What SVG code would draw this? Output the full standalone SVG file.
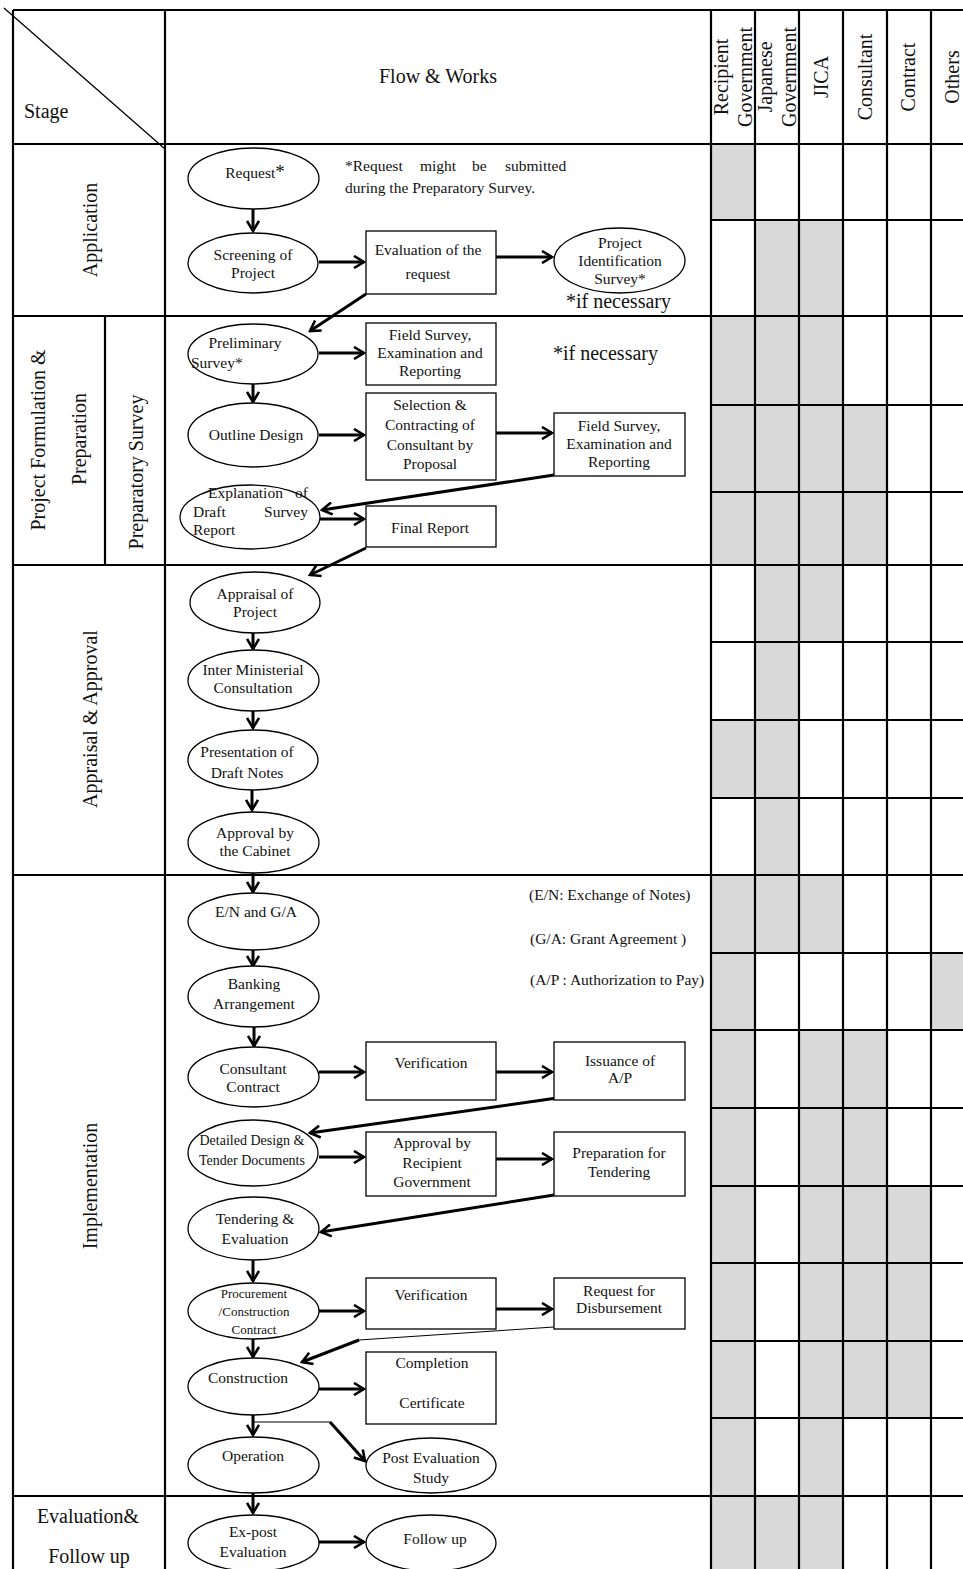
<svg xmlns="http://www.w3.org/2000/svg" width="963" height="1569" viewBox="0 0 963 1569">
<style>
text{font-family:"Liberation Serif","Times New Roman",serif;fill:#111;}
.t{font-size:15.5px;text-anchor:middle;}
.ts{font-size:14px;text-anchor:middle;}
.tx{font-size:13px;text-anchor:middle;}
.l{font-size:15.5px;}
.h{font-size:20px;}
.hm{font-size:20px;text-anchor:middle;}
.grid{stroke:#000;stroke-width:2.2;fill:none;}
.sh{fill:#d9d9d9;}
.n{fill:#fff;stroke:#000;stroke-width:1.3;}
.c{stroke:#000;stroke-width:3;fill:none;}
.thin{stroke:#000;stroke-width:1;fill:none;}
</style>
<defs>
<marker id="ah" markerUnits="userSpaceOnUse" viewBox="0 0 13 14" refX="11" refY="7" markerWidth="13" markerHeight="14" orient="auto">
<path d="M1,1 L11,7 L1,13" fill="none" stroke="#000" stroke-width="2.6"/>
</marker>
</defs>
<rect x="0" y="0" width="963" height="1569" fill="#fff"/>
<g id="shading">
<rect class="sh" x="711" y="144" width="44" height="76"/>
<rect class="sh" x="755" y="220" width="88" height="96"/>
<rect class="sh" x="711" y="316" width="132" height="89"/>
<rect class="sh" x="711" y="405" width="176" height="160"/>
<rect class="sh" x="755" y="565" width="88" height="77"/>
<rect class="sh" x="755" y="642" width="44" height="78"/>
<rect class="sh" x="711" y="720" width="88" height="78"/>
<rect class="sh" x="755" y="798" width="44" height="77"/>
<rect class="sh" x="711" y="875" width="132" height="78"/>
<rect class="sh" x="711" y="953" width="44" height="77"/>
<rect class="sh" x="931" y="953" width="32" height="77"/>
<rect class="sh" x="711" y="1030" width="44" height="466"/>
<rect class="sh" x="799" y="1030" width="88" height="156"/>
<rect class="sh" x="799" y="1186" width="132" height="232"/>
<rect class="sh" x="799" y="1418" width="44" height="78"/>
<rect class="sh" x="711" y="1496" width="132" height="73"/>
</g>
<g id="table" class="grid">
<line x1="13" y1="10" x2="963" y2="10"/>
<line x1="13" y1="10" x2="13" y2="1569"/>
<line x1="165" y1="10" x2="165" y2="1569"/>
<line x1="711" y1="10" x2="711" y2="1569"/>
<line x1="755" y1="10" x2="755" y2="1569"/>
<line x1="799" y1="10" x2="799" y2="1569"/>
<line x1="843" y1="10" x2="843" y2="1569"/>
<line x1="887" y1="10" x2="887" y2="1569"/>
<line x1="931" y1="10" x2="931" y2="1569"/>
<line x1="105" y1="316" x2="105" y2="565"/>
<line x1="13" y1="144" x2="963" y2="144"/>
<line x1="13" y1="316" x2="963" y2="316"/>
<line x1="13" y1="565" x2="963" y2="565"/>
<line x1="13" y1="875" x2="963" y2="875"/>
<line x1="13" y1="1496" x2="963" y2="1496"/>
<line x1="711" y1="220" x2="963" y2="220"/>
<line x1="711" y1="405" x2="963" y2="405"/>
<line x1="711" y1="492" x2="963" y2="492"/>
<line x1="711" y1="642" x2="963" y2="642"/>
<line x1="711" y1="720" x2="963" y2="720"/>
<line x1="711" y1="798" x2="963" y2="798"/>
<line x1="711" y1="953" x2="963" y2="953"/>
<line x1="711" y1="1030" x2="963" y2="1030"/>
<line x1="711" y1="1108" x2="963" y2="1108"/>
<line x1="711" y1="1186" x2="963" y2="1186"/>
<line x1="711" y1="1263" x2="963" y2="1263"/>
<line x1="711" y1="1341" x2="963" y2="1341"/>
<line x1="711" y1="1418" x2="963" y2="1418"/>
<line x1="4" y1="8" x2="165" y2="149" stroke-width="1.3"/>
</g>
<g id="headers">
<text class="h" x="24" y="118">Stage</text>
<text class="hm" x="438" y="83">Flow &amp; Works</text>
<text class="hm" transform="translate(728,77) rotate(-90)">Recipient</text>
<text class="hm" transform="translate(752,77) rotate(-90)">Government</text>
<text class="hm" transform="translate(772,77) rotate(-90)">Japanese</text>
<text class="hm" transform="translate(796,77) rotate(-90)">Government</text>
<text class="hm" transform="translate(828,77) rotate(-90)">JICA</text>
<text class="hm" transform="translate(872,77) rotate(-90)">Consultant</text>
<text class="hm" transform="translate(915,77) rotate(-90)">Contract</text>
<text class="hm" transform="translate(959,77) rotate(-90)">Others</text>
<text class="hm" transform="translate(97,230) rotate(-90)">Application</text>
<text class="hm" transform="translate(45,440) rotate(-90)">Project Formulation &amp;</text>
<text class="hm" transform="translate(86,439) rotate(-90)">Preparation</text>
<text class="hm" transform="translate(143,472) rotate(-90)">Preparatory Survey</text>
<text class="hm" transform="translate(97,719) rotate(-90)">Appraisal &amp; Approval</text>
<text class="hm" transform="translate(97,1186) rotate(-90)">Implementation</text>
<text class="hm" x="88" y="1523">Evaluation&amp;</text>
<text class="hm" x="89" y="1563">Follow up</text>
</g>
<g id="notes">
<text class="l" y="171"><tspan x="345">*Request</tspan><tspan x="420">might</tspan><tspan x="472">be</tspan><tspan x="505">submitted</tspan></text>
<text class="l" x="345" y="193">during the Preparatory Survey.</text>
<text class="h" x="566" y="308">*if necessary</text>
<text class="h" x="553" y="360">*if necessary</text>
<text class="l" x="529" y="900">(E/N: Exchange of Notes)</text>
<text class="l" x="530" y="944">(G/A: Grant Agreement )</text>
<text class="l" x="530" y="985">(A/P : Authorization to Pay)</text>
</g>
<g id="connectors">
<line class="c" x1="253" y1="209" x2="253" y2="231" marker-end="url(#ah)"/>
<line class="c" x1="319" y1="262" x2="364" y2="262" marker-end="url(#ah)"/>
<line class="c" x1="496" y1="257" x2="552" y2="257" marker-end="url(#ah)"/>
<line class="c" x1="366" y1="294" x2="310" y2="331" marker-end="url(#ah)"/>
<line class="c" x1="319" y1="353" x2="364" y2="353" marker-end="url(#ah)"/>
<line class="c" x1="253" y1="384" x2="253" y2="402" marker-end="url(#ah)"/>
<line class="c" x1="319" y1="435" x2="364" y2="435" marker-end="url(#ah)"/>
<line class="c" x1="496" y1="433" x2="552" y2="433" marker-end="url(#ah)"/>
<line class="c" x1="554" y1="475" x2="322" y2="510" marker-end="url(#ah)"/>
<line class="c" x1="320" y1="519" x2="364" y2="519" marker-end="url(#ah)"/>
<line class="c" x1="366" y1="548" x2="310" y2="575" marker-end="url(#ah)"/>
<line class="c" x1="253" y1="633" x2="253" y2="649" marker-end="url(#ah)"/>
<line class="c" x1="253" y1="711" x2="253" y2="728" marker-end="url(#ah)"/>
<line class="c" x1="252" y1="790" x2="252" y2="810" marker-end="url(#ah)"/>
<line class="c" x1="253" y1="873" x2="253" y2="892" marker-end="url(#ah)"/>
<line class="c" x1="253" y1="950" x2="253" y2="966" marker-end="url(#ah)"/>
<line class="c" x1="254" y1="1027" x2="254" y2="1046" marker-end="url(#ah)"/>
<line class="c" x1="319" y1="1072" x2="364" y2="1072" marker-end="url(#ah)"/>
<line class="c" x1="496" y1="1072" x2="552" y2="1072" marker-end="url(#ah)"/>
<line class="c" x1="557" y1="1098" x2="310" y2="1133" marker-end="url(#ah)"/>
<line class="c" x1="319" y1="1157" x2="364" y2="1157" marker-end="url(#ah)"/>
<line class="c" x1="496" y1="1159" x2="552" y2="1159" marker-end="url(#ah)"/>
<line class="c" x1="554" y1="1195" x2="321" y2="1232" marker-end="url(#ah)"/>
<line class="c" x1="253" y1="1260" x2="253" y2="1281" marker-end="url(#ah)"/>
<line class="c" x1="319" y1="1311" x2="364" y2="1311" marker-end="url(#ah)"/>
<line class="c" x1="496" y1="1309" x2="552" y2="1309" marker-end="url(#ah)"/>
<line class="thin" x1="554" y1="1327" x2="359" y2="1340"/>
<line class="c" x1="359" y1="1340" x2="302" y2="1362" marker-end="url(#ah)"/>
<line class="c" x1="253" y1="1339" x2="253" y2="1357" marker-end="url(#ah)"/>
<line class="c" x1="319" y1="1389" x2="364" y2="1389" marker-end="url(#ah)"/>
<line class="c" x1="253" y1="1415" x2="253" y2="1435" marker-end="url(#ah)"/>
<line class="thin" x1="253" y1="1422" x2="330" y2="1422"/>
<line class="c" x1="330" y1="1422" x2="365" y2="1461" marker-end="url(#ah)"/>
<line class="c" x1="253" y1="1493" x2="253" y2="1513" marker-end="url(#ah)"/>
<line class="c" x1="319" y1="1542" x2="364" y2="1542" marker-end="url(#ah)"/>
</g>
<g id="n-request"><ellipse class="n" cx="253.5" cy="178.5" rx="65.5" ry="30.5"/><text class="t" x="255" y="178">Request<tspan font-size="19px">*</tspan></text></g>
<g id="n-screening"><ellipse class="n" cx="253" cy="263" rx="65" ry="30"/><text class="t" x="253" y="260">Screening of</text><text class="t" x="253" y="278">Project</text></g>
<g id="n-evaluation"><rect class="n" x="366" y="231" width="130" height="63"/><text class="t" x="428" y="255">Evaluation of the</text><text class="t" x="428" y="279">request</text></g>
<g id="n-pis"><ellipse class="n" cx="619.5" cy="260.5" rx="65.5" ry="32.5"/><text class="t" x="620" y="248">Project</text><text class="t" x="620" y="266">Identification</text><text class="t" x="620" y="284">Survey*</text></g>
<g id="n-preliminary"><ellipse class="n" cx="253" cy="354" rx="65" ry="30"/><text class="t" x="245" y="348">Preliminary</text><text class="l" x="191" y="368">Survey*</text></g>
<g id="n-field1"><rect class="n" x="366" y="323" width="130" height="62"/><text class="t" x="430" y="340">Field Survey,</text><text class="t" x="430" y="358">Examination and</text><text class="t" x="430" y="376">Reporting</text></g>
<g id="n-outline"><ellipse class="n" cx="253" cy="435" rx="65" ry="32"/><text class="t" x="256" y="440">Outline Design</text></g>
<g id="n-selection"><rect class="n" x="366" y="393" width="130" height="87"/><text class="t" x="430" y="410">Selection &amp;</text><text class="t" x="430" y="430">Contracting of</text><text class="t" x="430" y="450">Consultant by</text><text class="t" x="430" y="469">Proposal</text></g>
<g id="n-field2"><rect class="n" x="554" y="413" width="131" height="63"/><text class="t" x="619" y="431">Field Survey,</text><text class="t" x="619" y="449">Examination and</text><text class="t" x="619" y="467">Reporting</text></g>
<g id="n-explanation"><ellipse class="n" cx="250" cy="517" rx="70" ry="32"/><text class="l" x="208" y="498">Explanation</text><text class="l" x="308" y="498" text-anchor="end">of</text><text class="l" x="193" y="517">Draft</text><text class="l" x="308" y="517" text-anchor="end">Survey</text><text class="l" x="193" y="535">Report</text></g>
<g id="n-final"><rect class="n" x="366" y="506" width="130" height="41"/><text class="t" x="430" y="533">Final Report</text></g>
<g id="n-appraisal"><ellipse class="n" cx="255" cy="602.5" rx="65" ry="30.5"/><text class="t" x="255" y="599">Appraisal of</text><text class="t" x="255" y="617">Project</text></g>
<g id="n-inter"><ellipse class="n" cx="253.5" cy="680.5" rx="65.5" ry="30.5"/><text class="t" x="253" y="675">Inter Ministerial</text><text class="t" x="253" y="693">Consultation</text></g>
<g id="n-presentation"><ellipse class="n" cx="253" cy="760" rx="65" ry="30"/><text class="t" x="247" y="757">Presentation of</text><text class="t" x="247" y="778">Draft Notes</text></g>
<g id="n-approval-cabinet"><ellipse class="n" cx="253.5" cy="842.5" rx="65.5" ry="30.5"/><text class="t" x="255" y="838">Approval by</text><text class="t" x="255" y="856">the Cabinet</text></g>
<g id="n-en-ga"><ellipse class="n" cx="253.5" cy="921.5" rx="65.5" ry="28.5"/><text class="t" x="256" y="917">E/N and G/A</text></g>
<g id="n-banking"><ellipse class="n" cx="253.5" cy="996.5" rx="65.5" ry="30.5"/><text class="t" x="254" y="989">Banking</text><text class="t" x="254" y="1009">Arrangement</text></g>
<g id="n-consultant-contract"><ellipse class="n" cx="253.5" cy="1077" rx="65.5" ry="30"/><text class="t" x="253" y="1074">Consultant</text><text class="t" x="253" y="1092">Contract</text></g>
<g id="n-verification1"><rect class="n" x="366" y="1042" width="130" height="58"/><text class="t" x="431" y="1068">Verification</text></g>
<g id="n-issuance"><rect class="n" x="554" y="1042" width="131" height="58"/><text class="t" x="620" y="1066">Issuance of</text><text class="t" x="620" y="1083">A/P</text></g>
<g id="n-detailed"><ellipse class="n" cx="253" cy="1153" rx="65" ry="33"/><text class="ts" x="252" y="1145">Detailed Design &amp;</text><text class="ts" x="252" y="1165">Tender Documents</text></g>
<g id="n-approval-recipient"><rect class="n" x="366" y="1132" width="130" height="64"/><text class="t" x="432" y="1148">Approval by</text><text class="t" x="432" y="1168">Recipient</text><text class="t" x="432" y="1187">Government</text></g>
<g id="n-preparation"><rect class="n" x="554" y="1132" width="131" height="64"/><text class="t" x="619" y="1158">Preparation for</text><text class="t" x="619" y="1177">Tendering</text></g>
<g id="n-tendering"><ellipse class="n" cx="253.5" cy="1228.5" rx="65.5" ry="31.5"/><text class="t" x="255" y="1224">Tendering &amp;</text><text class="t" x="255" y="1244">Evaluation</text></g>
<g id="n-procurement"><ellipse class="n" cx="253.5" cy="1311" rx="65.5" ry="28"/><text class="tx" x="254" y="1298">Procurement</text><text class="tx" x="254" y="1316">/Construction</text><text class="tx" x="254" y="1334">Contract</text></g>
<g id="n-verification2"><rect class="n" x="366" y="1278" width="130" height="51"/><text class="t" x="431" y="1300">Verification</text></g>
<g id="n-disbursement"><rect class="n" x="554" y="1278" width="131" height="51"/><text class="t" x="619" y="1296">Request for</text><text class="t" x="619" y="1313">Disbursement</text></g>
<g id="n-construction"><ellipse class="n" cx="253.5" cy="1386.5" rx="65.5" ry="28.5"/><text class="t" x="248" y="1383">Construction</text></g>
<g id="n-completion"><rect class="n" x="366" y="1352" width="130" height="72"/><text class="t" x="432" y="1368">Completion</text><text class="t" x="432" y="1408">Certificate</text></g>
<g id="n-operation"><ellipse class="n" cx="253.5" cy="1465" rx="65.5" ry="28"/><text class="t" x="253" y="1461">Operation</text></g>
<g id="n-post"><ellipse class="n" cx="431" cy="1465.5" rx="65" ry="27.5"/><text class="t" x="431" y="1463">Post Evaluation</text><text class="t" x="431" y="1483">Study</text></g>
<g id="n-expost"><ellipse class="n" cx="253.5" cy="1543" rx="65.5" ry="28"/><text class="t" x="253" y="1537">Ex-post</text><text class="t" x="253" y="1557">Evaluation</text></g>
<g id="n-followup"><ellipse class="n" cx="431" cy="1543" rx="65" ry="28"/><text class="t" x="435" y="1544">Follow up</text></g>
</svg>
